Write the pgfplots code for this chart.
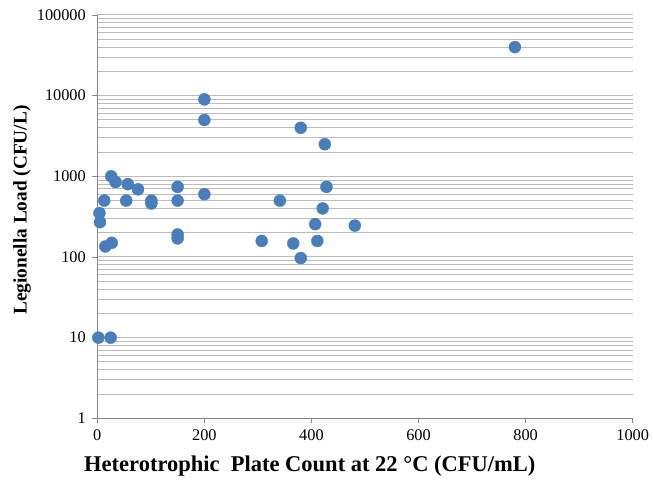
\documentclass[border=0pt]{standalone}
\usepackage{fontspec}
\setmainfont{Liberation Serif}
\usepackage{pgfplots}
\pgfplotsset{compat=1.18}
\definecolor{ptblue}{HTML}{4A7EBB}
\definecolor{gridgray}{HTML}{BBBBBB}
\definecolor{axisgray}{HTML}{868686}
\begin{document}
\begin{tikzpicture}
\begin{axis}[
  at={(0,0)}, anchor=south west,
  scale only axis,
  width=535.4bp, height=403.3bp,
  xmin=0, xmax=1000,
  ymode=log, ymin=1, ymax=100000,
  log basis y=10,
  xtick={0,200,400,600,800,1000},
  ytick={1,10,100,1000,10000,100000},
  yticklabels={1,10,100,1000,10000,100000},
  minor ytick={2,3,4,5,6,7,8,9,20,30,40,50,60,70,80,90,200,300,400,500,600,700,800,900,2000,3000,4000,5000,6000,7000,8000,9000,20000,30000,40000,50000,60000,70000,80000,90000},
  axis x line*=bottom, axis y line*=left,
  axis line style={draw=axisgray, line width=0.8bp, -},
  tick align=outside,
  major tick length=5bp,
  minor tick length=0bp,
  tick style={draw=axisgray, line width=0.8bp},
  ymajorgrids=true, yminorgrids=true,
  major grid style={draw=gridgray, line width=1bp},
  minor grid style={draw=gridgray, line width=1bp},
  /pgf/number format/assume math mode=true,
  /pgf/number format/1000 sep={},
  tick label style={font=\fontsize{16.3bp}{19bp}\selectfont, text=black},
  yticklabel style={xshift=-3bp},
  xticklabel style={yshift=-3bp},
  xlabel={Heterotrophic\ \ Plate Count at 22 \textdegree C (CFU/mL)},
  ylabel={Legionella Load (CFU/L)},
  xlabel style={font=\bfseries\fontsize{22.5bp}{25bp}\selectfont, at={(axis description cs:0.397,-0.118)}, anchor=center},
  ylabel style={font=\bfseries\fontsize{19.3bp}{22bp}\selectfont, at={(axis description cs:-0.1406,0.5165)}, anchor=center, rotate=0},
  clip=false,
]
\addplot[only marks, mark=*, mark size=6bp, mark options={fill=ptblue, draw=ptblue}] table {
x y
780 40000
200 9000
200 5000
380 4000
425 2500
26 1000
34 850
57 800
76 690
150 740
428 740
200 600
13 500
54 500
101 500
101 460
150 500
341 500
4 350
421 400
5 270
407 255
481 245
150 190
150 170
307 158
15 135
27 150
366 147
411 158
380 97
2 10
25 10
};
\end{axis}
\pgfresetboundingbox
\path (-97.3bp,-63.7bp) rectangle (555.7bp,418.3bp);
\end{tikzpicture}
\end{document}
